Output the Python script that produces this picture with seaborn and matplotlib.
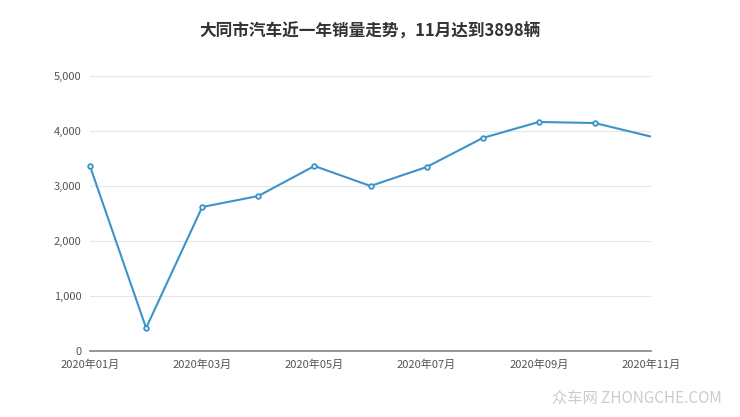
import matplotlib
matplotlib.use("Agg")
import matplotlib.pyplot as plt
import seaborn as sns
import pandas as pd

months = ["2020年01月","2020年02月","2020年03月","2020年04月","2020年05月","2020年06月",
          "2020年07月","2020年08月","2020年09月","2020年10月","2020年11月"]
sales = [3360, 418, 2618, 2818, 3364, 3000, 3345, 3873, 4164, 4145, 3898]
yticks = [0, 1000, 2000, 3000, 4000, 5000]

sns.set_theme(style="white")
plt.rcParams['font.family'] = ['Noto Sans CJK SC', 'DejaVu Sans']

df = pd.DataFrame({"x": range(len(months)), "y": sales})
fig = plt.figure(figsize=(7.4, 4.17), dpi=100)
ax = fig.add_axes([90/740, 1-351/417, (651-90)/740, (351-76)/417])
c = "#3a94c8"
sns.lineplot(data=df, x="x", y="y", ax=ax, color=c, linewidth=1.5)
ax.scatter(df.x[:-1], df.y[:-1], s=11, facecolor="white", edgecolor=c, linewidth=1.3, zorder=3, clip_on=False)
ax.set_xlim(0, len(months)-1)
ax.set_ylim(0, 5000)
ax.set_yticks(yticks)
ax.set_yticklabels([f"{v:,}" for v in yticks], fontsize=8, color="#555555")
ax.set_xticks(range(0, len(months), 2))
ax.set_xticklabels(months[::2], fontsize=8, color="#555555")
ax.set_xlabel(""); ax.set_ylabel("")
ax.grid(axis="y", color="#e6e6e6", linewidth=0.8)
for s in ["top", "right", "left"]:
    ax.spines[s].set_visible(False)
ax.spines["bottom"].set_color("#888888")
ax.tick_params(axis="x", length=4, color="#888888", pad=2)
ax.tick_params(axis="y", length=0, pad=6)
fig.text(0.5, 1-32/417, "大同市汽车近一年销量走势，11月达到3898辆", ha="center", va="center",
         fontsize=12, fontweight="bold", color="#333333")
fig.text(0.975, 1-398/417, "众车网 ZHONGCHE.COM", ha="right", va="center", fontsize=11, color="#cccccc")
fig.savefig("out.png", dpi=100)
